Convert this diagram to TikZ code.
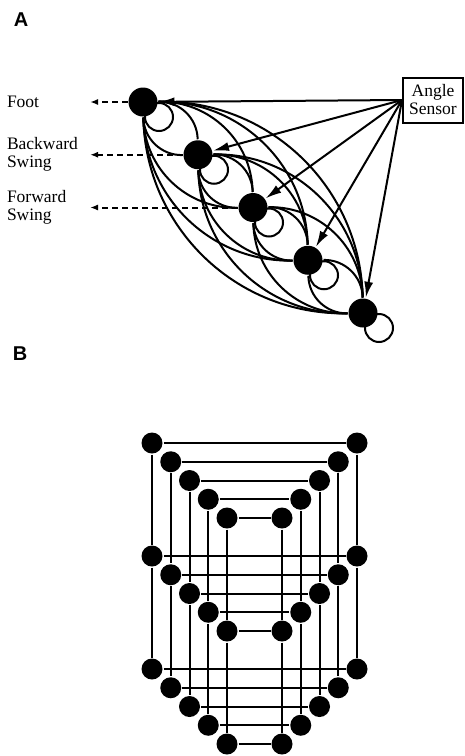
\documentclass[tikz,border=0pt]{standalone}
\usepackage{fontspec}
\setmainfont{Liberation Serif}
\setsansfont{Liberation Sans}
\usetikzlibrary{arrows.meta}
\usetikzlibrary{positioning}

\begin{document}
\begin{tikzpicture}[x=1pt, y=-1pt, line width=2pt,
    unit/.style={circle, fill=black, inner sep=0pt, minimum size=29pt},
    gridunit/.style={circle, fill=black, inner sep=0pt, minimum size=21pt},
    panel/.style={font=\sffamily\bfseries\fontsize{20}{20}\selectfont},
    lbl/.style={font=\fontsize{17.5}{18}\selectfont, align=left, text width=82pt, inner sep=0pt, anchor=east},
    sensorarrow/.style={-{Latex[length=16pt,width=9pt]}},
    outarrow/.style={dash pattern=on 6pt off 4pt, -{Latex[length=8pt,width=6pt]}}]
    \useasboundingbox (0,0) rectangle (464,756);

    % Panel labels
    \node [panel] (pa) at (21,20) {A};
    \node [panel] (pb) at (20,354) {B};

    % Define units of the chain
    \node [unit] (n1) at (143,102) {};
    \node [unit, on grid, below right=52.75pt and 55pt of n1] (n2) {};
    \node [unit, on grid, below right=52.75pt and 55pt of n2] (n3) {};
    \node [unit, on grid, below right=52.75pt and 55pt of n3] (n4) {};
    \node [unit, on grid, below right=52.75pt and 55pt of n4] (n5) {};

    \node [draw, line width=2pt, minimum width=60pt, minimum height=45pt, align=center, inner sep=1pt,
           font=\fontsize{17.5}{18}\selectfont] (sensor) at (433,100) {Angle\\Sensor};

    \node [lbl] (foot) at (90,102) {Foot};
    \node [lbl] (back) at (90,154.75) {Backward\\Swing};
    \node [lbl] (fwd) at (90,207.5) {Forward\\Swing};

    % Define connections
    \foreach \a/\b in {1/2,1/3,1/4,1/5,2/3,2/4,2/5,3/4,3/5,4/5} {
        \draw (n\a) to[bend left=45] (n\b);
        \draw (n\a) to[bend right=45] (n\b);
    }
    \foreach \i in {1,...,5} {
        \draw ([shift={(16pt,-15pt)}]n\i.center) circle (14pt);
        \draw [sensorarrow] (sensor.west) -- (n\i);
    }

    % Define outputs
    \draw [outarrow] (n1) -- (foot);
    \draw [outarrow] (n2) -- (back);
    \draw [outarrow] (n3) -- (fwd);

    % Define grid of panel B
    \foreach \g in {0,1,2} {
        \foreach \i in {0,...,4} {
            \node [gridunit] (l\g\i) at ({152+18.75*\i},{443+113*\g+18.75*\i}) {};
            \node [gridunit] (r\g\i) at ({357-18.75*\i},{443+113*\g+18.75*\i}) {};
            \draw (l\g\i) -- (r\g\i);
        }
    }
    \foreach \i in {0,...,4} {
        \draw (l0\i) -- (l1\i) -- (l2\i);
        \draw (r0\i) -- (r1\i) -- (r2\i);
    }
\end{tikzpicture}
\end{document}
